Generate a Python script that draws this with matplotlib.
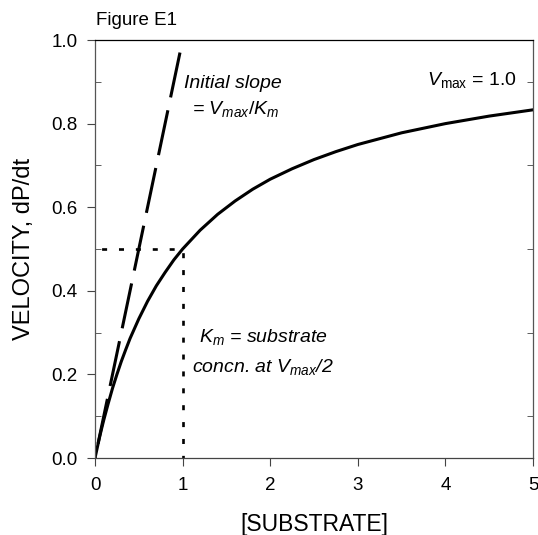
import matplotlib
matplotlib.use("Agg")
from matplotlib import pyplot as plt
from matplotlib.ticker import MultipleLocator

plt.rcParams['font.family'] = ['Liberation Sans', 'DejaVu Sans']
plt.rcParams['mathtext.fontset'] = 'custom'
plt.rcParams['mathtext.rm'] = 'Liberation Sans'
plt.rcParams['mathtext.it'] = 'Liberation Sans:italic'

# Michaelis-Menten curve
substrate = [0, 0.025, 0.05, 0.075, 0.1, 0.15, 0.2, 0.25, 0.3, 0.35, 0.4, 0.5,
             0.6, 0.7, 0.8, 0.9, 1.0, 1.2, 1.4, 1.6, 1.8, 2.0, 2.25, 2.5, 2.75,
             3.0, 3.5, 4.0, 4.5, 5.0]
velocity = [0, 0.024, 0.048, 0.070, 0.091, 0.130, 0.167, 0.200, 0.231, 0.259,
            0.286, 0.333, 0.375, 0.412, 0.444, 0.474, 0.5, 0.545, 0.583, 0.615,
            0.643, 0.667, 0.692, 0.714, 0.733, 0.75, 0.778, 0.8, 0.818, 0.833]

# initial slope line (drawn top-down so the dash pattern starts at the top)
slope_x = [0.97, 0]
slope_y = [0.97, 0]

# half-max guide lines
hline_x = [0, 1]
hline_y = [0.5, 0.5]
vline_x = [1, 1]
vline_y = [0, 0.5]

fig = plt.figure(figsize=(5.38, 5.35), dpi=100)
ax = fig.add_axes([0.1766, 0.1439, 0.8141, 0.7813])

ax.plot(substrate, velocity, color='black', lw=2.2, solid_capstyle='round')
ax.plot(slope_x, slope_y, color='black', lw=2.2, dashes=(15, 4.3))
ax.plot(hline_x, hline_y, color='black', lw=1.9, linestyle=(-2.5, (1.9, 4.5)))
ax.plot(vline_x, vline_y, color='black', lw=1.9, linestyle=(0.9, (1.9, 4.5)))

ax.set_xlim(0, 5)
ax.set_ylim(0, 1.0)
ax.xaxis.set_major_locator(MultipleLocator(1))
ax.yaxis.set_major_locator(MultipleLocator(0.2))
ax.yaxis.set_minor_locator(MultipleLocator(0.1))
ax.yaxis.set_major_formatter(lambda v, p: f"{v:.1f}")
ax.tick_params(axis='both', which='major', direction='out', length=5.5,
               labelsize=13.5, color='#444444')
ax.tick_params(axis='x', which='major', pad=8)
ax.tick_params(axis='y', which='major', pad=7)
ax.tick_params(axis='y', which='minor', direction='in', length=4,
               left=True, right=True, color='#444444')
for s in ax.spines.values():
    s.set_linewidth(0.9)
ax.spines['left'].set_color('#555555')
ax.spines['right'].set_color('#555555')
ax.spines['bottom'].set_color('#444444')

ax.set_xlabel('[SUBSTRATE]', fontsize=16.5, labelpad=14)
ax.set_ylabel('VELOCITY, dP/dt', fontsize=17)
ax.yaxis.set_label_coords(-0.137, 0.5)

fig.text(0.178, 0.953, 'Figure E1', fontsize=13.5)

ax.text(1.02, 0.885, 'Initial slope', fontsize=14, style='italic')
ax.text(1.11, 0.823, r'= $V_{max}/K_m$', fontsize=14, style='italic')
ax.text(3.79, 0.892, r'$V_{\mathrm{max}}$ = 1.0', fontsize=14)
ax.text(1.19, 0.278, r'$K_m$ = substrate', fontsize=14, style='italic')
ax.text(1.11, 0.206, r'concn. at $V_{max}$/2', fontsize=14, style='italic')

fig.savefig('out.png', dpi=100)
